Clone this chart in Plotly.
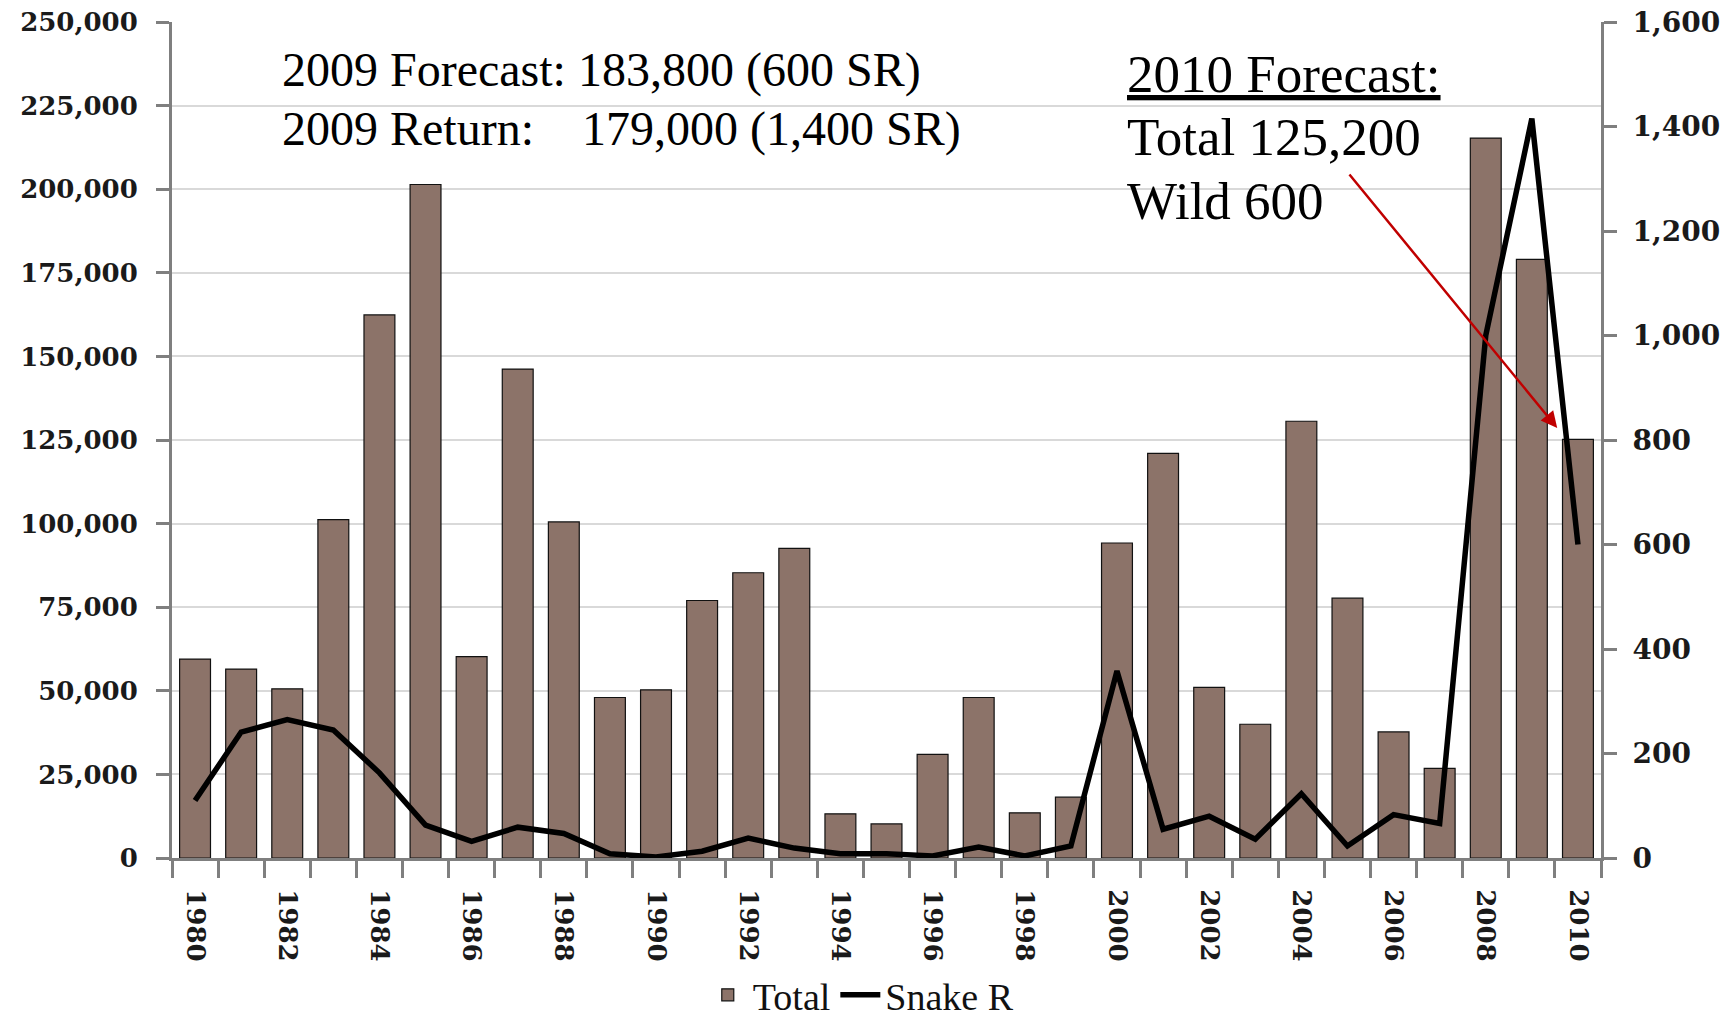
import plotly.graph_objects as go

years = list(range(1980, 2011))
total = [59500, 56500, 50600, 101200, 162400, 201400, 60200, 146200, 100500, 48000,
         50300, 77000, 85300, 92600, 13200, 10200, 31000, 48000, 13500, 18200,
         94200, 121000, 51000, 40000, 130600, 77700, 37700, 26800, 215300, 179000,
         125200]
snake_r = [110, 241, 265, 245, 163, 63, 32, 59, 47, 8,
           2, 13, 38, 19, 8, 8, 4, 21, 4, 23,
           358, 55, 80, 36, 123, 23, 83, 66, 1000, 1415,
           600]
x_tick_years = list(range(1980, 2011, 2))
x_tick_text = [str(y) for y in x_tick_years]

W, H = 1734, 1020
L, R, T, B = 172, 133, 22, 162
tickfont = dict(family="DejaVu Serif", size=26, color="#1a1a1a", weight="bold")
rtickfont = dict(family="DejaVu Serif", size=28, color="#1a1a1a", weight="bold")
axis_gray = "#7f7f7f"

fig = go.Figure()
fig.add_trace(go.Bar(
    x=years, y=total, name="Total",
    marker=dict(color="#8c7369", line=dict(color="#111111", width=1.2)),
    yaxis="y",
))
fig.add_trace(go.Scatter(
    x=years, y=snake_r, name="Snake R", mode="lines",
    line=dict(color="#000000", width=5.5),
    yaxis="y2",
))

fig.update_layout(
    width=W, height=H,
    margin=dict(l=L, r=R, t=T, b=B, pad=0, autoexpand=False),
    plot_bgcolor="white", paper_bgcolor="white",
    bargap=0.33,
    showlegend=True,
    legend=dict(orientation="h", x=0.482, xanchor="center", y=-0.164, yanchor="middle",
                font=dict(family="Liberation Serif", size=38, color="#111111"),
                itemwidth=40, tracegroupgap=0),
    xaxis=dict(
        range=[1979.5, 2010.5], automargin=False,
        tickmode="array", tickvals=x_tick_years, ticktext=x_tick_text,
        tickangle=90, ticks="", tickfont=tickfont, ticklabelstandoff=23,
        showline=True, linecolor=axis_gray, linewidth=3,
        showgrid=False, zeroline=False,
        minor=dict(tickmode="linear", tick0=1979.5, dtick=1, ticks="outside",
                   ticklen=17, tickwidth=2.5, tickcolor=axis_gray, showgrid=False),
    ),
    yaxis=dict(
        range=[0, 250000], tickmode="linear", tick0=0, dtick=25000, automargin=False,
        tickformat=",d", tickfont=tickfont, ticklabeloverflow="allow",
        ticks="outside", ticklen=13, tickwidth=2.5, tickcolor=axis_gray,
        ticklabelstandoff=13,
        showline=True, linecolor=axis_gray, linewidth=3,
        showgrid=True, gridcolor="#d9d9d9", gridwidth=2,
        zeroline=False,
    ),
    yaxis2=dict(
        range=[0, 1600], tickmode="linear", tick0=0, dtick=200, automargin=False,
        tickformat=",d", tickfont=rtickfont, overlaying="y", side="right",
        ticklabeloverflow="allow",
        ticks="outside", ticklen=13, tickwidth=2.5, tickcolor=axis_gray,
        ticklabelstandoff=10,
        showline=True, linecolor=axis_gray, linewidth=3,
        showgrid=False, zeroline=False,
    ),
)

afont = dict(family="Liberation Serif", size=48, color="#000000")
bfont = dict(family="Liberation Serif", size=53, color="#000000")
ann = [
    dict(text="2009 Forecast: 183,800 (600 SR)", x=0.0756, y=0.9426, font=afont),
    dict(text="2009 Return:\u00a0\u00a0\u00a0 179,000 (1,400 SR)", x=0.0756, y=0.872, font=afont),
    dict(text="<u>2010 Forecast:</u>", x=0.6667, y=0.9378, font=bfont),
    dict(text="Total 125,200", x=0.6667, y=0.8624, font=bfont),
    dict(text="Wild 600", x=0.6667, y=0.7859, font=bfont),
]
for a in ann:
    fig.add_annotation(xref="paper", yref="paper", xanchor="left", yanchor="middle",
                       showarrow=False, **a)

fig.add_annotation(x=2009.55, y=128600, xref="x", yref="y", text="",
                   showarrow=True, ax=-209, ay=-255, arrowcolor="#c00000",
                   arrowwidth=2.5, arrowhead=2, arrowsize=1.3)

fig.write_html("out.html", config={"displayModeBar": False},
               post_script="document.body.style.margin='0';document.body.style.overflow='hidden';")
